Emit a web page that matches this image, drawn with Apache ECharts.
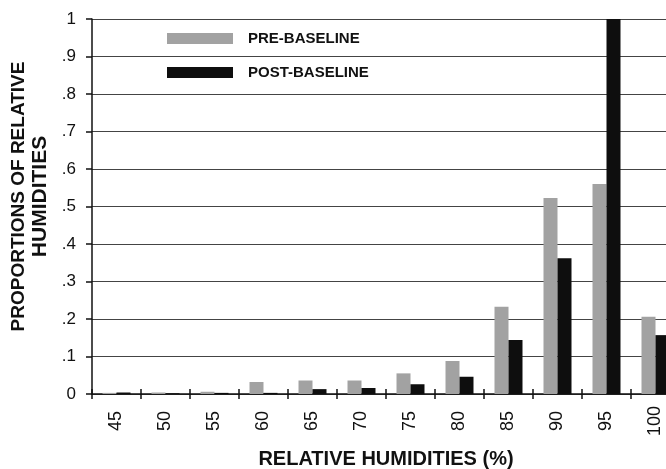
<!DOCTYPE html>
<html>
<head>
<meta charset="utf-8">
<script src="https://cdn.jsdelivr.net/npm/echarts@6/dist/echarts.min.js"></script>
<style>html,body{margin:0;padding:0;background:#fff}#c{width:666px;height:469px}</style>
</head>
<body>
<div id="c"></div>
<script>
const categories = ['45','50','55','60','65','70','75','80','85','90','95','100'];
const preBaseline = [0.003,0.004,0.006,0.032,0.036,0.036,0.055,0.088,0.233,0.523,0.56,0.206];
const postBaseline = [0.004,0.002,0.003,0.003,0.013,0.016,0.026,0.046,0.144,0.362,1.0,0.157];
const yTicks = ['0','.1','.2','.3','.4','.5','.6','.7','.8','.9','1'];

const chart = echarts.init(document.getElementById('c'), null, {renderer:'canvas'});
const F = 'Liberation Sans, Arial, sans-serif';
chart.setOption({
  animation:false,
  backgroundColor:'#fff',
  legend:{
    orient:'vertical', left:167, top:31, padding:0,
    itemWidth:66, itemHeight:11, itemGap:19,
    icon:'rect',
    textStyle:{fontFamily:F, fontWeight:'bold', fontSize:15, color:'#111', padding:[0,0,0,10]},
    data:['PRE-BASELINE','POST-BASELINE']
  },
  grid:{left:92, right:-14, top:19, bottom:75, containLabel:false, outerBoundsMode:'none'},
  xAxis:[{
    type:'category', data:categories,
    axisLine:{lineStyle:{color:'#111', width:1.5}},
    axisTick:{show:true, length:5, lineStyle:{color:'#111', width:1.5}},
    axisLabel:{rotate:90, align:'center', verticalAlign:'middle', fontFamily:F, fontSize:18, color:'#111', margin:27},
    name:'RELATIVE HUMIDITIES (%)', nameLocation:'middle', nameGap:55,
    nameTextStyle:{fontFamily:F, fontWeight:'bold', fontSize:20, color:'#111'}
  },{
    type:'category', data:categories, position:'bottom',
    axisLine:{show:false},
    axisTick:{show:true, inside:true, length:5, lineStyle:{color:'#111', width:1.5}},
    axisLabel:{show:false}
  }],
  yAxis:{
    type:'value', min:0, max:1, interval:0.1,
    axisLine:{show:true, lineStyle:{color:'#111', width:1.5}},
    axisTick:{show:true, length:6, lineStyle:{color:'#111', width:1.5}},
    axisLabel:{fontFamily:F, fontSize:17, color:'#111', margin:16,
      formatter:function(v){return yTicks[Math.round(v*10)];}},
    splitLine:{lineStyle:{color:'#444', width:1.2}},
    name:'{a|PROPORTIONS OF RELATIVE}\n{b|HUMIDITIES}', nameLocation:'middle', nameGap:37,
    nameTextStyle:{fontFamily:F, fontWeight:'bold', color:'#111', padding:[0,0,0,20],
      rich:{
        a:{fontFamily:F, fontWeight:'bold', fontSize:19, color:'#111', lineHeight:22},
        b:{fontFamily:F, fontWeight:'bold', fontSize:21, color:'#111', lineHeight:22}
      }}
  },
  series:[
    {name:'PRE-BASELINE', type:'bar', data:preBaseline, barWidth:14, barGap:'0%', itemStyle:{color:'#a2a2a2'}},
    {name:'POST-BASELINE', type:'bar', data:postBaseline, barWidth:14, barGap:'0%', itemStyle:{color:'#0e0e0e'}}
  ]
});
</script>
</body>
</html>
